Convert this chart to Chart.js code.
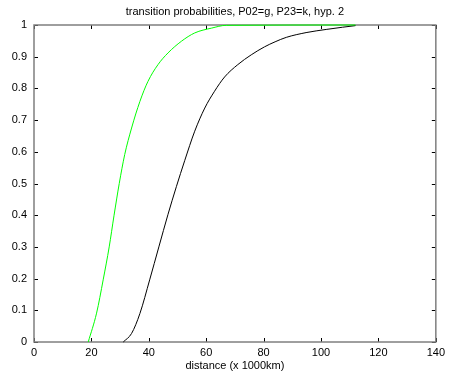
<!DOCTYPE html>
<html>
<head>
<meta charset="utf-8">
<script src="https://cdn.jsdelivr.net/npm/chart.js@4/dist/chart.umd.min.js"></script>
<style>
  body { margin: 0; background: #fff; }
  #wrap { width: 449px; height: 378px; }
</style>
</head>
<body>
<div id="wrap"><canvas id="myChart" width="449" height="378"></canvas></div>
<script>
// datos
const greenX = [18.9, 21.8, 24.1, 26.2, 27.9, 29.7, 31.6, 34, 36.9, 39.7, 43.2, 46.7, 51.4, 56, 61.8, 67, 112];
const greenY = [0, 0.091, 0.196, 0.30, 0.40, 0.50, 0.591, 0.675, 0.759, 0.822, 0.875, 0.912, 0.949, 0.975, 0.99, 0.999, 1];

const blackX = [31.1, 34, 36.9, 40.3, 43.5, 46.7, 49.6, 52.5, 56, 59.5, 62.9, 66.4, 71, 75.7, 80.3, 84, 87.9, 94.8, 101.8, 107.5, 112];
const blackY = [0, 0.027, 0.09, 0.196, 0.30, 0.403, 0.49, 0.572, 0.665, 0.738, 0.791, 0.836, 0.875, 0.906, 0.931, 0.947, 0.961, 0.976, 0.986, 0.993, 0.998];

const xTicks = [0, 20, 40, 60, 80, 100, 120, 140];
const yTicks = [0, 0.1, 0.2, 0.3, 0.4, 0.5, 0.6, 0.7, 0.8, 0.9, 1];

const toPoints = (xs, ys) => xs.map((x, i) => ({ x: x, y: ys[i] }));

// marco con ticks hacia adentro (estilo matlab)
const frame = {
    id: 'frame',
    beforeDatasetsDraw(chart) {
        const { ctx, chartArea: a, scales } = chart;
        ctx.save();
        ctx.strokeStyle = '#000';
        ctx.lineWidth = 1;
        ctx.beginPath();
        xTicks.forEach(v => {
            const px = Math.round(scales.x.getPixelForValue(v)) + 0.5;
            ctx.moveTo(px, a.bottom); ctx.lineTo(px, a.bottom - 4);
            ctx.moveTo(px, a.top); ctx.lineTo(px, a.top + 4);
        });
        yTicks.forEach(v => {
            const py = Math.round(scales.y.getPixelForValue(v)) + 0.5;
            ctx.moveTo(a.left, py); ctx.lineTo(a.left + 4, py);
            ctx.moveTo(a.right, py); ctx.lineTo(a.right - 4, py);
        });
        ctx.stroke();
        ctx.strokeStyle = '#7f7f7f';
        ctx.lineWidth = 1.5;
        ctx.strokeRect(a.left, a.top, a.right - a.left, a.bottom - a.top);
        ctx.restore();
    }
};

const font = { family: '"Liberation Sans", Arial, sans-serif', size: 11 };

new Chart(document.getElementById('myChart').getContext('2d'), {
    type: 'scatter',
    data: {
        datasets: [{
            data: toPoints(greenX, greenY),
            showLine: true,
            borderColor: '#00ff00',
            borderWidth: 1,
            pointRadius: 0,
            cubicInterpolationMode: 'monotone',
            clip: 3
        }, {
            data: toPoints(blackX, blackY),
            showLine: true,
            borderColor: '#000000',
            borderWidth: 1,
            pointRadius: 0,
            cubicInterpolationMode: 'monotone',
            clip: 3
        }]
    },
    options: {
        responsive: false,
        animation: false,
        layout: { padding: { left: 0, right: 12, top: 0, bottom: 0 } },
        plugins: {
            legend: { display: false },
            tooltip: { enabled: false },
            title: {
                display: true,
                fullSize: false,
                text: 'transition probabilities, P02=g, P23=k, hyp. 2',
                color: '#000',
                font: { family: font.family, size: 11, weight: 'normal', lineHeight: 1.2 },
                padding: { top: 5, bottom: 6.8 }
            }
        },
        scales: {
            x: {
                type: 'linear',
                min: 0, max: 140,
                afterFit: s => { s.height = 36; },
                afterBuildTicks: s => { s.ticks = xTicks.map(v => ({ value: v })); },
                grid: { display: false, drawTicks: false },
                border: { display: false },
                ticks: { color: '#000', font: font, padding: 4, maxRotation: 0 },
                title: {
                    display: true,
                    text: 'distance (x 1000km)',
                    color: '#000',
                    font: font,
                    padding: { top: 0, bottom: 5 }
                }
            },
            y: {
                type: 'linear',
                min: 0, max: 1,
                afterFit: s => { s.width = 34; },
                afterBuildTicks: s => { s.ticks = yTicks.map(v => ({ value: v })); },
                grid: { display: false, drawTicks: false },
                border: { display: false },
                ticks: { color: '#000', font: font, padding: 7, callback: v => String(v) }
            }
        }
    },
    plugins: [frame]
});
</script>
</body>
</html>
